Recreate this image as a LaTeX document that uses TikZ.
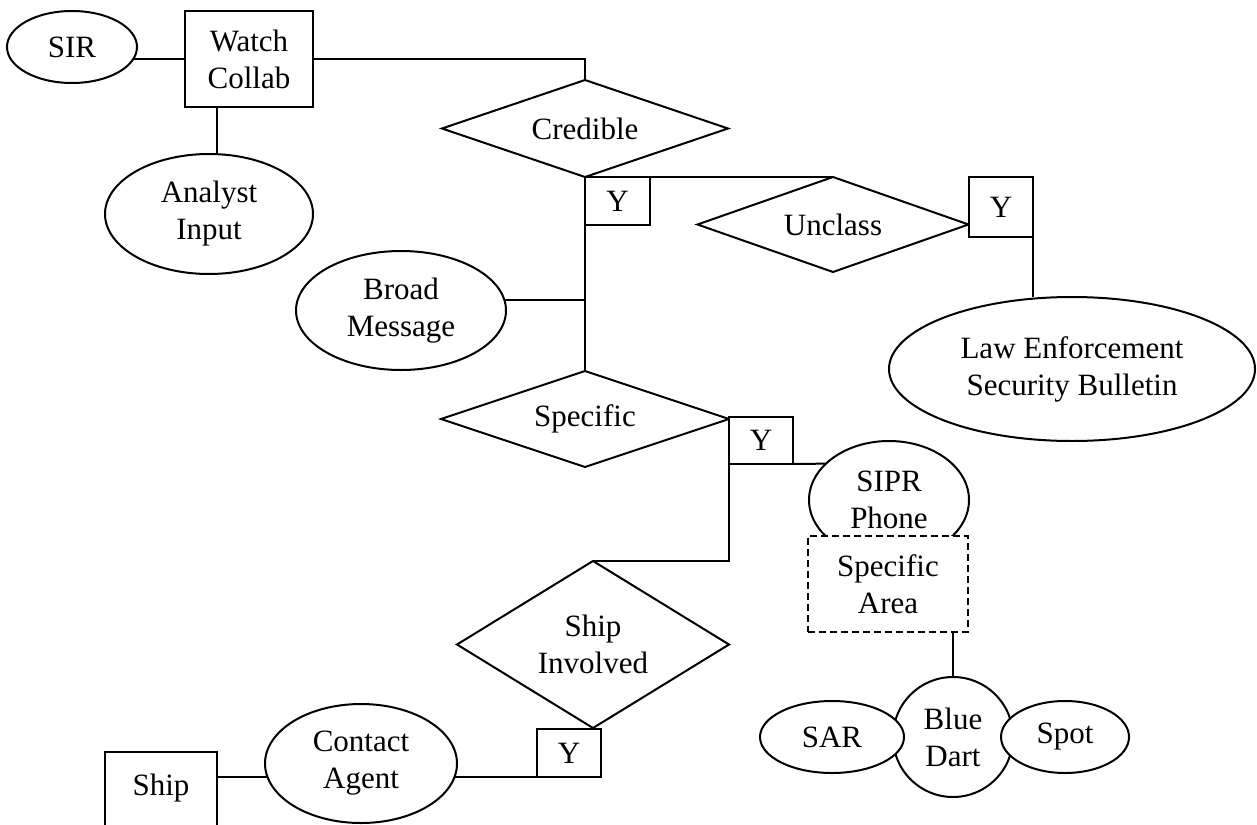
\documentclass[tikz,border=0pt]{standalone}
\usepackage{fontspec}
\setmainfont{Liberation Serif}
\usetikzlibrary{shapes.geometric}

\tikzset{
	every node/.style={font=\fontsize{15.5pt}{18.5pt}\selectfont, inner sep=0pt, outer sep=0pt, align=center},
	ent/.style={draw, rectangle, fill=white},
	attr/.style={draw, ellipse, fill=white},
	rel/.style={draw, diamond, aspect=3, fill=white},
	yes/.style={draw, rectangle, fill=white, minimum width=32pt, minimum height=24pt},
}

\begin{document}
\begin{tikzpicture}[x=0.5pt, y=-0.5pt, line width=1pt]
	\useasboundingbox (0,0) rectangle (1257,824);
	\clip (0,0) rectangle (1257,824);

            \node[attr, minimum width=65pt, minimum height=36pt] (sir) at (72,47) {SIR};
            \node[ent, minimum width=64pt, minimum height=48pt] (watch) at (249,59) {Watch\\Collab};
            \node[attr, minimum width=104pt, minimum height=60pt] (analyst) at (209,214) {Analyst\\Input};

            \node[rel, minimum width=143pt, minimum height=48.5pt] (credible) at (585,128.5) {Credible};
            \node[yes, minimum width=32.5pt] (ycred) at (617.5,201) {Y};
            \node[rel, minimum width=135.5pt, minimum height=47.5pt] (unclass) at (833,224.5) {Unclass};
            \node[yes, minimum height=30pt] (yunc) at (1001,207) {Y};
            \node[attr, minimum width=183pt, minimum height=72pt] (law) at (1072,369) {Law Enforcement\\Security Bulletin};

            \node[attr, minimum width=105pt, minimum height=59.5pt] (broad) at (401,310.5) {Broad\\Message};
            \node[rel, minimum width=144pt, minimum height=48pt] (specific) at (585,419) {Specific};
            \node[yes, minimum height=23.5pt] (yspec) at (761,440.5) {Y};

            \node[rel, aspect=1.6, minimum width=136pt, minimum height=83.5pt] (shipinv) at (593,644.5) {Ship\\Involved};
            \node[yes] (yship) at (569,753) {Y};
            \node[attr, minimum width=96pt, minimum height=59.5pt] (contact) at (361,763.5) {Contact\\Agent};
            \node[ent, anchor=north, minimum width=56pt, text height=21.5pt, text depth=40pt] (ship) at (161,752) {Ship};

            \node[attr, minimum width=80pt, minimum height=59pt] (sipr) at (889,500) {SIPR\\Phone};
            \node[ent, dash pattern=on 3.5pt off 2pt, minimum width=80pt, minimum height=48pt] (area) at (888,584) {Specific\\Area};

            \node[attr, minimum width=60pt, minimum height=60pt] (bluedart) at (953,737) {Blue\\Dart};
            \node[attr, minimum width=72pt, minimum height=36pt] (sar) at (832,737) {SAR};
            \node[attr, minimum width=64pt, minimum height=36pt] (spot) at (1065,737) {Spot};

            \draw (sir.-11) -- (sir.-11 -| watch.west);
            \draw (analyst.82) -- (analyst.82 |- watch.south);
            \draw (watch.east) -| (credible.north);
            \draw (credible.south) -- (specific.north);
            \draw (credible.south) -- (unclass.north);
            \draw (yunc.south east) -- (yunc.south east |- law.north);
            \draw (broad.6.4) -- (broad.6.4 -| credible.south);
            \draw (yspec.south east) -- (sipr.150.4);
            \draw (yspec.south west) |- (shipinv.north);
            \draw (yship.south west) -- (yship.south west -| contact.-8.5);
            \draw (contact.188.5) -- (contact.188.5 -| ship.east);
            \draw (bluedart.north) -- (bluedart.north |- area.south);

          %\node at (0,0) {};
        \end{tikzpicture}
\end{document}
